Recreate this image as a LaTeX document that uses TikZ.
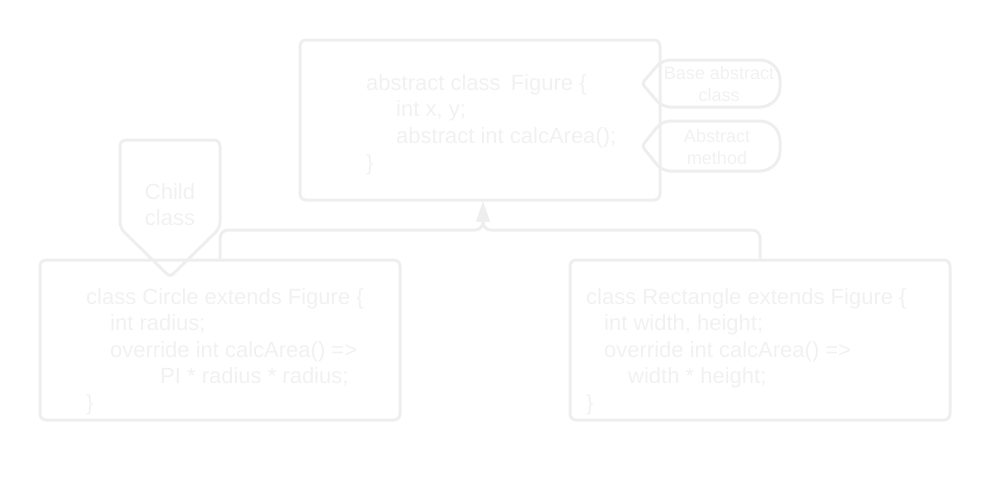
\documentclass[tikz,border=0pt]{standalone}
\usepackage{fontspec}
\setmainfont{Liberation Sans}
\usetikzlibrary{arrows.meta}
\definecolor{strokec}{RGB}{238,238,238}
\definecolor{textc}{RGB}{241,241,241}
\tikzset{
  box/.style={draw=strokec, line width=3pt, rounded corners=6pt, inner sep=0pt},
  code/.style={text=textc, inner sep=0pt, anchor=base west, font=\fontsize{22}{26}\selectfont},
  calltxt/.style={text=textc, inner sep=0pt, align=center, font=\fontsize{18}{21.5}\selectfont},
  callout/.style={draw=strokec, line width=3pt, line join=round},
  conn/.style={draw=strokec, line width=3pt, rounded corners=8pt, -{Triangle[length=20pt,width=13pt]}},
}
\begin{document}
\begin{tikzpicture}[x=1pt,y=-1pt]
\useasboundingbox (0,0) rectangle (990,490);
% class boxes
\node[box, minimum width=360pt, minimum height=160pt] (fig) at (480,120) {};
\node[box, minimum width=360pt, minimum height=160pt] (circ) at (220,340) {};
\node[box, minimum width=380pt, minimum height=160pt] (rect) at (760,340) {};
% Figure text
\node[code] (f1) at (366,90) {abstract class\ \kern4pt Figure \{};
\node[code] (f2) at (396,116.7) {int x, y;};
\node[code] (f3) at (396,143.3) {abstract int calcArea();};
\node[code] (f4) at (366,170) {\}};
% Circle text
\node[code] (c1) at (86,304) {class Circle extends Figure \{};
\node[code] (c2) at (110,330.5) {int radius;};
\node[code] (c3) at (110,357) {override int calcArea() =>};
\node[code] (c4) at (160,383.5) {PI * radius * radius;};
\node[code] (c5) at (86,410) {\}};
% Rectangle text
\node[code] (r1) at (586,304) {class Rectangle extends Figure \{};
\node[code] (r2) at (604,330.5) {int width, height;};
\node[code] (r3) at (604,357) {override int calcArea() =>};
\node[code] (r4) at (628,383.5) {width * height;};
\node[code] (r5) at (586,410) {\}};
% connectors
\coordinate (j) at (483,230);
\draw[conn] (circ.north) |- (j) -- (j |- fig.south);
\draw[conn] (rect.north) |- (j) -- (j |- fig.south);
% callouts
\draw[callout] (720,60) [rounded corners=20pt] -- (780,60) -- (780,107) [rounded corners=8pt] -- (662,107) [rounded corners=3pt] -- (642,83.5) [rounded corners=8pt] -- (662,60) -- cycle;
\node[calltxt] (t1) at (719,84) {Base abstract\\class};
\draw[callout] (720,121) [rounded corners=20pt] -- (780,121) -- (780,171) [rounded corners=8pt] -- (662,171) [rounded corners=3pt] -- (642,146) [rounded corners=8pt] -- (662,121) -- cycle;
\node[calltxt] (t2) at (717,147) {Abstract\\method};
\draw[callout] (170,140) [rounded corners=6pt] -- (220,140) -- (220,228) [rounded corners=4pt] -- (170,277) [rounded corners=6pt] -- (120,228) -- (120,140) -- cycle;
\node[calltxt, font=\fontsize{22}{26}\selectfont] (t3) at (170,205) {Child\\class};
\end{tikzpicture}
\end{document}
